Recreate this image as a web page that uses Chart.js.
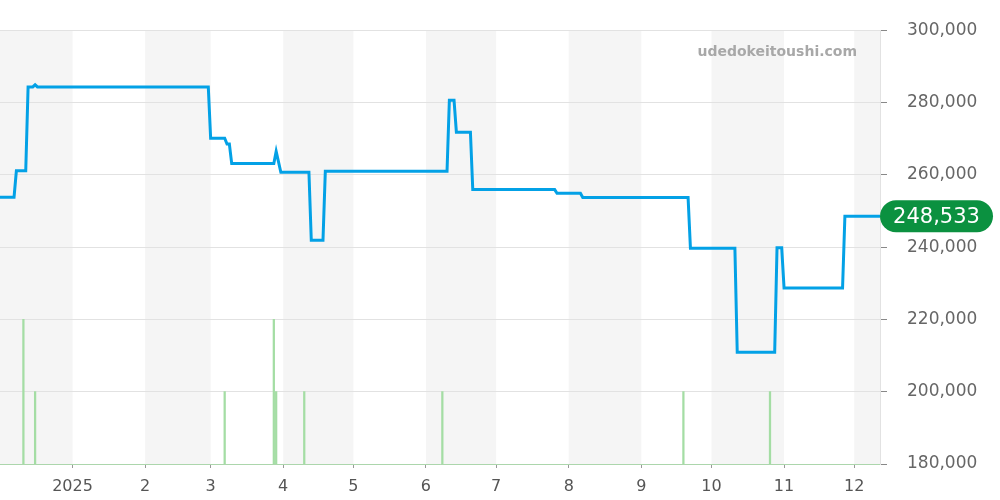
<!DOCTYPE html>
<html>
<head>
<meta charset="utf-8">
<script src="https://cdn.jsdelivr.net/npm/chart.js@4/dist/chart.umd.min.js"></script>
<style>
  html, body { margin: 0; padding: 0; background: #fff; }
  #wrap { width: 1000px; height: 500px; }
</style>
</head>
<body>
<div id="wrap"><canvas id="priceChart" width="1000" height="500"></canvas></div>
<script>
// range of the x axis
const rangeStart = '2024-12-01';
const rangeEnd = '2025-12-12';

// price line (step-like)
const priceDates = ['2024-12-01','2024-12-07','2024-12-08','2024-12-12','2024-12-13','2024-12-15','2024-12-16','2024-12-17',
  '2025-02-28','2025-03-01','2025-03-07','2025-03-08','2025-03-09','2025-03-10','2025-03-28','2025-03-29','2025-03-31',
  '2025-04-12','2025-04-13','2025-04-18','2025-04-19','2025-06-10','2025-06-11','2025-06-13','2025-06-14','2025-06-20',
  '2025-06-21','2025-07-26','2025-07-27','2025-08-06','2025-08-07','2025-09-21','2025-09-22','2025-10-11','2025-10-12',
  '2025-10-28','2025-10-29','2025-10-31','2025-11-01','2025-11-26','2025-11-27','2025-12-12'];
const priceValues = [253800,253800,261100,261100,284300,284300,284900,284300,
  284300,270100,270100,268500,268500,263100,263100,266500,260700,
  260700,241900,241900,261000,261000,280600,280600,271800,271800,
  255900,255900,254900,254900,253700,253700,239700,239700,210900,
  210900,239800,239800,228700,228700,248533,248533];

// volume bars at the bottom
const volumeDates = ['2024-12-11','2024-12-16','2025-03-07','2025-03-28','2025-03-29','2025-04-10','2025-06-08','2025-09-19','2025-10-26'];
const volumeValues = [2,1,1,2,1,1,1,1,1];

// x ticks
const monthTicks = ['2025-01-01','2025-02-01','2025-03-01','2025-04-01','2025-05-01','2025-06-01',
  '2025-07-01','2025-08-01','2025-09-01','2025-10-01','2025-11-01','2025-12-01'];
const monthLabels = ['2025','2','3','4','5','6','7','8','9','10','11','12'];

// shaded months
const bandStarts = ['2024-12-01','2025-02-01','2025-04-01','2025-06-01','2025-08-01','2025-10-01','2025-12-01'];
const bandEnds   = ['2025-01-01','2025-03-01','2025-05-01','2025-07-01','2025-09-01','2025-11-01','2026-01-01'];

const lastPrice = priceValues[priceValues.length - 1];

function dayOf(s) {
  return (Date.parse(s + 'T00:00:00Z') - Date.parse(rangeStart + 'T00:00:00Z')) / 864e5;
}

Chart.defaults.font.family = '"DejaVu Sans", sans-serif';

const bandsPlugin = {
  id: 'bands',
  beforeDraw(chart) {
    const { ctx, chartArea, scales } = chart;
    ctx.save();
    ctx.fillStyle = '#f5f5f5';
    bandStarts.forEach((s, i) => {
      let x1 = Math.max(scales.x.getPixelForValue(dayOf(s)), chartArea.left);
      let x2 = Math.min(scales.x.getPixelForValue(dayOf(bandEnds[i])), chartArea.right);
      if (x2 > x1) ctx.fillRect(x1, chartArea.top, x2 - x1, chartArea.bottom - chartArea.top);
    });
    ctx.restore();
  },
  afterDraw(chart) {
    const { ctx, chartArea, scales } = chart;
    ctx.save();
    // watermark
    ctx.font = 'bold 14px "DejaVu Sans", sans-serif';
    ctx.fillStyle = '#a8a8a8';
    ctx.textAlign = 'right';
    ctx.textBaseline = 'middle';
    ctx.fillText('udedokeitoushi.com', chartArea.right - 23, chartArea.top + 22);

    // last price pill
    const y = scales.y.getPixelForValue(lastPrice);
    const x = chartArea.right;
    const w = 113, h = 32, r = 16;
    ctx.fillStyle = '#0b9140';
    ctx.beginPath();
    ctx.roundRect(x, y - h / 2, w, h, r);
    ctx.fill();
    ctx.fillStyle = '#fff';
    ctx.font = '21px "DejaVu Sans", sans-serif';
    ctx.textAlign = 'center';
    ctx.fillText(lastPrice.toLocaleString('en-US'), x + w / 2, y + 1);
    ctx.restore();
  }
};

const ctx = document.getElementById('priceChart').getContext('2d');
new Chart(ctx, {
  type: 'line',
  data: {
    datasets: [{
      type: 'line',
      data: priceDates.map((d, i) => ({ x: dayOf(d), y: priceValues[i] })),
      borderColor: '#03a1e6',
      borderWidth: 3,
      pointRadius: 0,
      tension: 0,
      yAxisID: 'y',
      order: 1
    }, {
      type: 'bar',
      data: volumeDates.map((d, i) => ({ x: dayOf(d), y: volumeValues[i] })),
      backgroundColor: '#a4dda4',
      barThickness: 1.6,
      grouped: false,
      yAxisID: 'y2',
      order: 2
    }]
  },
  options: {
    responsive: false,
    animation: false,
    layout: { padding: { top: 26, left: 0, right: 0, bottom: 0 } },
    plugins: { legend: { display: false }, tooltip: { enabled: false } },
    scales: {
      x: {
        type: 'linear',
        min: 0,
        max: dayOf(rangeEnd),
        offset: false,
        afterBuildTicks: s => { s.ticks = monthTicks.map(d => ({ value: dayOf(d) })); },
        afterFit: s => { s.height = 36; },
        ticks: {
          autoSkip: false,
          maxRotation: 0,
          color: '#555',
          font: { size: 16 },
          padding: 9,
          callback: (v, i) => monthLabels[i]
        },
        grid: { offset: false, drawOnChartArea: false, tickLength: 4, tickColor: '#999' },
        border: { display: true, color: 'rgba(150,210,150,0.7)', dash: [2, 1] }
      },
      y: {
        position: 'right',
        min: 180000,
        max: 300000,
        afterFit: s => { s.width = 120; },
        ticks: {
          stepSize: 20000,
          color: '#666',
          font: { size: 17 },
          padding: 20,
          callback: v => v.toLocaleString('en-US')
        },
        grid: { color: '#e2e2e2', tickLength: 7, tickColor: '#888' },
        border: { display: true, color: '#e2e2e2' }
      },
      y2: {
        display: false,
        min: 0,
        max: 6
      }
    }
  },
  plugins: [bandsPlugin]
});
</script>
</body>
</html>
